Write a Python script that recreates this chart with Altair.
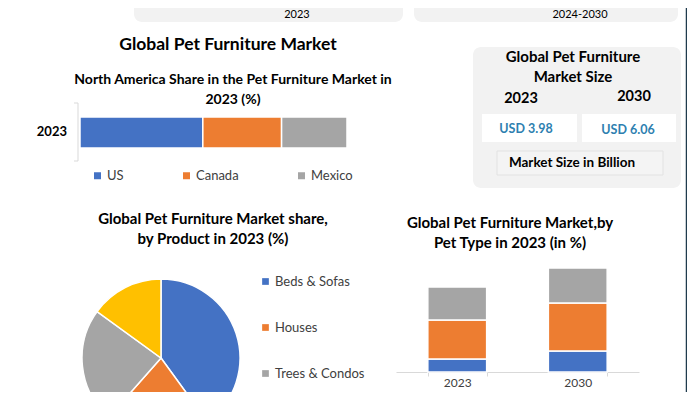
import altair as alt
import pandas as pd

# ---------------- data ----------------
na_countries = ["US", "Canada", "Mexico"]
na_share = [46, 29.5, 24.5]
na_year = "2023"

products = ["Beds & Sofas", "Houses", "Trees & Condos", "Others"]
product_share = [40, 21.5, 23.5, 15]

pet_years = ["2023", "2030"]
pet_types = ["Dogs", "Cats", "Others"]
pet_2023 = [13, 39, 33]
pet_2030 = [21, 48, 35]

size_years = ["2023", "2030"]
size_values = ["USD 3.98", "USD 6.06"]
card_labels = ["2023", "2024-2030"]

BLUE, ORANGE, GRAY, YELLOW = "#4472c4", "#ed7d31", "#a5a5a5", "#ffc000"
FONT = "Lato"
W, H = 679, 384


def p(v):
    return v - 8


dummy = pd.DataFrame({"d": [0]})


def box(x1, y1, x2, y2, fill, stroke=None, r=0, sw=1):
    kw = dict(fill=fill, cornerRadius=r)
    if stroke:
        kw.update(stroke=stroke, strokeWidth=sw)
    return alt.Chart(dummy).mark_rect(**kw).encode(
        x=alt.value(p(x1)), x2=alt.value(p(x2)), y=alt.value(p(y1)), y2=alt.value(p(y2)))


def txt(s, x, y, size, bold=True, color="#000000", align="center"):
    return alt.Chart(dummy).mark_text(
        text=s, fontSize=size, font=FONT, fontWeight="bold" if bold else "normal",
        color=color, align=align, baseline="middle").encode(x=alt.value(p(x)), y=alt.value(p(y)))


def rule(x1, y1, x2, y2, color, sw=1):
    return alt.Chart(dummy).mark_rule(color=color, strokeWidth=sw).encode(
        x=alt.value(p(x1)), x2=alt.value(p(x2)), y=alt.value(p(y1)), y2=alt.value(p(y2)))


layers = []

# top cards (partially visible)
layers += [
    box(134, -10, 403, 22, "#f2f2f2", r=8),
    box(414, -10, 678, 22, "#f2f2f2", r=8),
    txt(card_labels[0], 297, 15, 11, bold=False),
    txt(card_labels[1], 580, 15, 11, bold=False),
]

# right border
layers.append(rule(686.5, 0, 686.5, 400, "#1f3b4d", 1.5))

# main title + NA subtitle
layers += [
    txt("Global Pet Furniture Market", 228, 45, 17.5),
    txt("North America Share in the Pet Furniture Market in", 233, 80, 14),
    txt("2023 (%)", 233, 100, 14),
]

# NA axis line + ticks + label
layers += [
    rule(78, 103, 78, 161, "#d9d9d9"),
    rule(74, 103, 78, 103, "#d9d9d9"),
    rule(74, 161, 78, 161, "#d9d9d9"),
    txt(na_year, 67, 132, 13, align="right"),
]

na_df = pd.DataFrame({"year": [na_year] * len(na_countries), "country": na_countries,
                      "share": na_share, "order": list(range(len(na_countries)))})
na_bar = alt.Chart(na_df).mark_bar(stroke="white", strokeWidth=1.5).encode(
    x=alt.X("share:Q", stack="zero", scale=alt.Scale(domain=[0, 100], range=[p(80), p(347)]), axis=None),
    y=alt.Y("year:N", scale=alt.Scale(domain=[na_year], range=[p(117), p(148)], paddingInner=0, paddingOuter=0),
            axis=None),
    color=alt.Color("country:N", sort=na_countries,
                    scale=alt.Scale(domain=na_countries, range=[BLUE, ORANGE, GRAY]),
                    legend=alt.Legend(orient="none", legendX=p(91), legendY=p(169), direction="horizontal",
                                      title=None, symbolType="square", symbolSize=49, symbolStrokeWidth=0,
                                      labelFont=FONT, labelFontSize=13, labelColor="#404040",
                                      columnPadding=56, labelOffset=3)),
    order=alt.Order("order:Q"),
)
layers.append(na_bar)

# Market size box
layers += [
    box(473, 47, 681, 188, "#f2f2f2", r=8),
    txt("Global Pet Furniture", 573, 57, 15),
    txt("Market Size", 573, 77, 15),
    txt(size_years[0], 521, 99, 14.5),
    txt(size_years[1], 634, 97, 14.5),
    box(482, 114, 577, 142, "#ffffff"),
    box(582, 114, 676, 142, "#ffffff"),
    txt(size_values[0], 526, 129, 12.5, color="#2e7fb0"),
    txt(size_values[1], 628, 130, 12.5, color="#2e7fb0"),
    box(497, 151, 663, 175, "#f4f4f4", stroke="#e2e2e2"),
    txt("Market Size in Billion", 572, 163, 13.5),
]

# Pie section
layers += [
    txt("Global Pet Furniture Market share,", 213, 219, 15),
    txt("by Product in 2023  (%)", 213, 239, 15),
]
pie_df = pd.DataFrame({"product": products, "share": product_share, "order": list(range(len(products)))})
pie = alt.Chart(pie_df).mark_arc(outerRadius=79, stroke="white", strokeWidth=1.5).encode(
    theta=alt.Theta("share:Q", stack=True),
    color=alt.Color("product:N", sort=products,
                    scale=alt.Scale(domain=products, range=[BLUE, ORANGE, GRAY, YELLOW]),
                    legend=alt.Legend(orient="none", legendX=p(259), legendY=p(275), direction="vertical",
                                      values=products[:3],
                                      title=None, symbolType="square", symbolSize=45, symbolStrokeWidth=0,
                                      labelFont=FONT, labelFontSize=13, labelColor="#404040",
                                      rowPadding=32, labelOffset=3)),
    order=alt.Order("order:Q"),
    x=alt.value(p(161)),
    y=alt.value(p(358)),
)
layers.append(pie)

# Pet type section
layers += [
    txt("Global Pet Furniture Market,by", 510, 223, 15),
    txt("Pet Type in 2023 (in %)", 510, 243, 15),
]
pet_df = pd.DataFrame({
    "year": [y for y in pet_years for _ in pet_types],
    "type": pet_types * len(pet_years),
    "value": pet_2023 + pet_2030,
    "order": list(range(len(pet_types))) * len(pet_years),
})
AXIS_Y = 372
pet = alt.Chart(pet_df).mark_bar(stroke="white", strokeWidth=1.5).encode(
    x=alt.X("year:N", sort=pet_years,
            scale=alt.Scale(domain=pet_years, range=[p(396), p(639)], paddingInner=0.512, paddingOuter=0.264),
            axis=alt.Axis(orient="bottom", offset=-(H - p(AXIS_Y)), title=None, labelFont=FONT, labelFontSize=12,
                          labelColor="#404040", domainColor="#d9d9d9", tickColor="#d9d9d9", tickBand="extent",
                          tickSize=4, labelPadding=1, labelAngle=0)),
    y=alt.Y("value:Q", stack="zero", scale=alt.Scale(domain=[0, 120], range=[p(AXIS_Y), p(AXIS_Y - 120)]),
            axis=None),
    color=alt.Color("type:N", scale=alt.Scale(domain=pet_types, range=[BLUE, ORANGE, GRAY]), legend=None),
    order=alt.Order("order:Q"),
)
layers.append(pet)

chart = alt.layer(*layers).resolve_scale(
    x="independent", y="independent", color="independent", theta="independent"
).resolve_legend(color="independent").resolve_axis(x="independent", y="independent").properties(
    width=W, height=H, padding=0, background="white",
    autosize=alt.AutoSizeParams(type="none"),
).configure_view(stroke=None)

chart.save("out.html", embed_options={"renderer": "svg", "actions": False})
